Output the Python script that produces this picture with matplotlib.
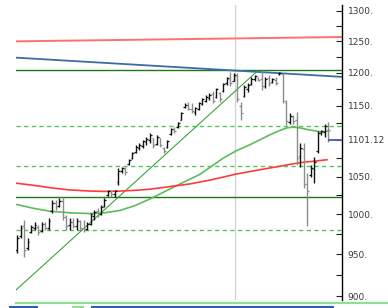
import numpy as np
import matplotlib
matplotlib.use("Agg")
import matplotlib.pyplot as plt
from matplotlib.lines import Line2D
from matplotlib.ticker import FixedLocator, NullFormatter

# --------------------------------------------------
# OHLC bars
# --------------------------------------------------
highs = [974, 986, 993, 970, 986, 990, 986, 990, 990, 995,
         1019, 1019, 1021, 1023, 999, 995, 995, 995, 993, 993,
         990, 1002, 1006, 1008, 1012, 1021, 1032, 1032, 1032, 1062,
         1063, 1063, 1074, 1084, 1094, 1096, 1101, 1105, 1111, 1104,
         1108, 1104, 1091, 1101, 1118, 1119, 1127, 1141, 1154, 1156,
         1154, 1149, 1156, 1162, 1166, 1169, 1172, 1177, 1171, 1185,
         1194, 1201, 1200, 1200, 1156, 1182, 1185, 1194, 1197, 1194,
         1205, 1194, 1197, 1192, 1194, 1201, 1200, 1159, 1140, 1137,
         1141, 1096, 1096, 1055, 1066, 1077, 1113, 1115, 1124, 1127]
lows = [951, 970, 946, 955, 976, 980, 974, 977, 980, 980,
        1002, 1006, 1010, 993, 980, 980, 983, 980, 980, 977,
        980, 986, 993, 997, 999, 1010, 1024, 1023, 1023, 1039,
        1055, 1052, 1066, 1074, 1083, 1087, 1090, 1094, 1096, 1090,
        1094, 1091, 1083, 1090, 1108, 1111, 1118, 1129, 1147, 1144,
        1140, 1137, 1144, 1152, 1156, 1159, 1154, 1162, 1156, 1171,
        1182, 1180, 1187, 1156, 1129, 1163, 1171, 1182, 1187, 1187,
        1174, 1177, 1180, 1185, 1182, 1197, 1154, 1122, 1124, 1124,
        1066, 1063, 1035, 985, 1050, 1041, 1083, 1108, 1105, 1098]
opens = [955, 972, 985, 958, 978, 983, 984, 979, 987, 982,
         1004, 1015, 1011, 1018, 996, 986, 990, 985, 991, 983,
         981, 988, 998, 1004, 1001, 1011, 1025, 1030, 1026, 1042,
         1058, 1060, 1067, 1075, 1084, 1090, 1092, 1098, 1101, 1103,
         1095, 1103, 1090, 1091, 1109, 1115, 1119, 1130, 1148, 1152,
         1146, 1141, 1146, 1153, 1158, 1162, 1168, 1163, 1170, 1172,
         1184, 1191, 1188, 1196, 1150, 1165, 1176, 1183, 1190, 1193,
         1190, 1180, 1192, 1186, 1189, 1198, 1198, 1155, 1127, 1134,
         1130, 1078, 1088, 1040, 1052, 1060, 1085, 1110, 1112, 1120]
closes = [970, 982, 955, 965, 984, 986, 978, 988, 982, 992,
          1015, 1010, 1018, 996, 985, 990, 985, 992, 983, 980,
          987, 1000, 1003, 1000, 1010, 1019, 1030, 1026, 1030, 1058,
          1061, 1056, 1072, 1082, 1091, 1093, 1099, 1102, 1108, 1093,
          1105, 1094, 1085, 1099, 1116, 1113, 1125, 1139, 1152, 1146,
          1142, 1147, 1154, 1160, 1163, 1167, 1157, 1175, 1160, 1183,
          1192, 1184, 1197, 1160, 1140, 1178, 1182, 1191, 1195, 1189,
          1180, 1190, 1184, 1190, 1185, 1200, 1158, 1128, 1135, 1128,
          1075, 1090, 1040, 1030, 1062, 1070, 1110, 1113, 1120, 1101.12]
last_price = 1101.12

# --------------------------------------------------
# Overlay studies (bar index -> price)
# --------------------------------------------------
green_ma_idx = [-0.3, 4.5, 9.4, 15.0, 20.9, 25.1, 29.4, 33.5, 38.0, 42.3, 46.6, 52.3,
                58.9, 62.5, 66.6, 72.3, 75.0, 77.1, 79.0, 80.9, 83.7, 87.1, 89.4]
green_ma_val = [1013, 1008, 1004, 1002, 1001, 1002, 1005, 1011, 1020, 1030, 1040, 1053,
                1075, 1085, 1094, 1108, 1114, 1118, 1119, 1118, 1115, 1112, 1114]
red_ma_idx = [-0.3, 5.0, 9.4, 15.0, 20.9, 25.0, 29.4, 34.0, 38.0, 43.0, 49.4,
              56.0, 62.3, 68.0, 75.1, 80.9, 85.0, 88.6]
red_ma_val = [1041, 1038, 1035, 1032, 1030.5, 1030, 1030.5, 1031.5, 1033, 1036, 1040,
              1046, 1053, 1058, 1064, 1069, 1071, 1073]

top_red = [1250, 1257]        # upper channel, left -> right
blue_trend = [1224, 1194]     # falling resistance
fan_line = [907, 1204]        # rising trend line
fan_end = 68.9
resistance = 1204
support = 1023
dashed_levels = [1120, 1065, 980]
marker_bar = 62.3

major_ticks = [900, 950, 1000, 1050, 1150, 1200, 1250, 1300]
minor_ticks = [925, 975, 1025, 1075, 1125, 1175, 1225, 1275]

# --------------------------------------------------
# Figure
# --------------------------------------------------
fig = plt.figure(figsize=(3.88, 3.08), dpi=100)
ax = fig.add_axes([16 / 388, 8 / 308, 326 / 388, 295 / 308])
ax.set_yscale("log")
xl = (-0.3, 92.9)
ax.set_xlim(*xl)
ax.set_ylim(895.4, 1310)

for s in ["left", "top", "bottom"]:
    ax.spines[s].set_visible(False)
ax.spines["right"].set_linewidth(1.0)
ax.set_xticks([])

# reference lines
ax.axvline(marker_bar, color="#d4d4d4", lw=0.9, zorder=1)
for lv in dashed_levels:
    ax.axhline(lv, color="#55c455", lw=1.0, ls=(0, (3, 2.5)), zorder=2)
ax.axhline(resistance, color="#1e781e", lw=1.0, zorder=2)
ax.axhline(support, color="#1e781e", lw=1.0, zorder=2)
ax.plot(xl, top_red, color="#ff7070", lw=1.4, zorder=2)
ax.plot(xl, blue_trend, color="#3c6ca6", lw=1.3, zorder=2)
ax.plot([xl[0], fan_end], fan_line, color="#2ea02e", lw=0.75, zorder=3)
ax.plot(green_ma_idx, green_ma_val, color="#5cbc5c", lw=1.2, zorder=3)
ax.plot(red_ma_idx, red_ma_val, color="#ff3a3a", lw=1.2, zorder=3)

# OHLC bars
idx = np.arange(len(highs))
o = np.array(opens)
c = np.array(closes)
cols = np.where(c >= o, "#111111", "#8c8c8c")
ax.vlines(idx, lows, highs, colors=cols, lw=1.0, zorder=4)
ax.hlines(o, idx - 0.5, idx, colors=cols, lw=0.9, zorder=4)
ax.hlines(c, idx, idx + 0.5, colors=cols, lw=0.9, zorder=4)

# last price marker
ax.hlines(last_price, idx[-1], xl[1], colors="#4a5ab0", lw=1.3, zorder=4)

# right price axis
ax.yaxis.tick_right()
ticks = major_ticks + [last_price]
ax.yaxis.set_major_locator(FixedLocator(ticks))
ax.set_yticklabels([f"{t:.0f}." for t in major_ticks] + [f"{last_price:.2f}"])
ax.yaxis.set_minor_locator(FixedLocator(minor_ticks))
ax.yaxis.set_minor_formatter(NullFormatter())
ax.tick_params(axis="y", which="both", direction="in", length=4, width=0.8,
               pad=4, labelsize=6.5, labelcolor="#3a3a3a", color="#222222")

# bottom strips
fig.add_artist(Line2D([16 / 388, 1.0], [5 / 308, 5 / 308], color="#8fe08f", lw=1.5))
fig.add_artist(Line2D([10 / 388, 37 / 388], [1 / 308, 1 / 308], color="#2a62b0", lw=1.5))
fig.add_artist(Line2D([73 / 388, 83 / 388], [1 / 308, 1 / 308], color="#8fe08f", lw=1.5))
fig.add_artist(Line2D([92 / 388, 333 / 388], [1 / 308, 1 / 308], color="#2a62b0", lw=1.5))

fig.savefig("out.png", dpi=100)
